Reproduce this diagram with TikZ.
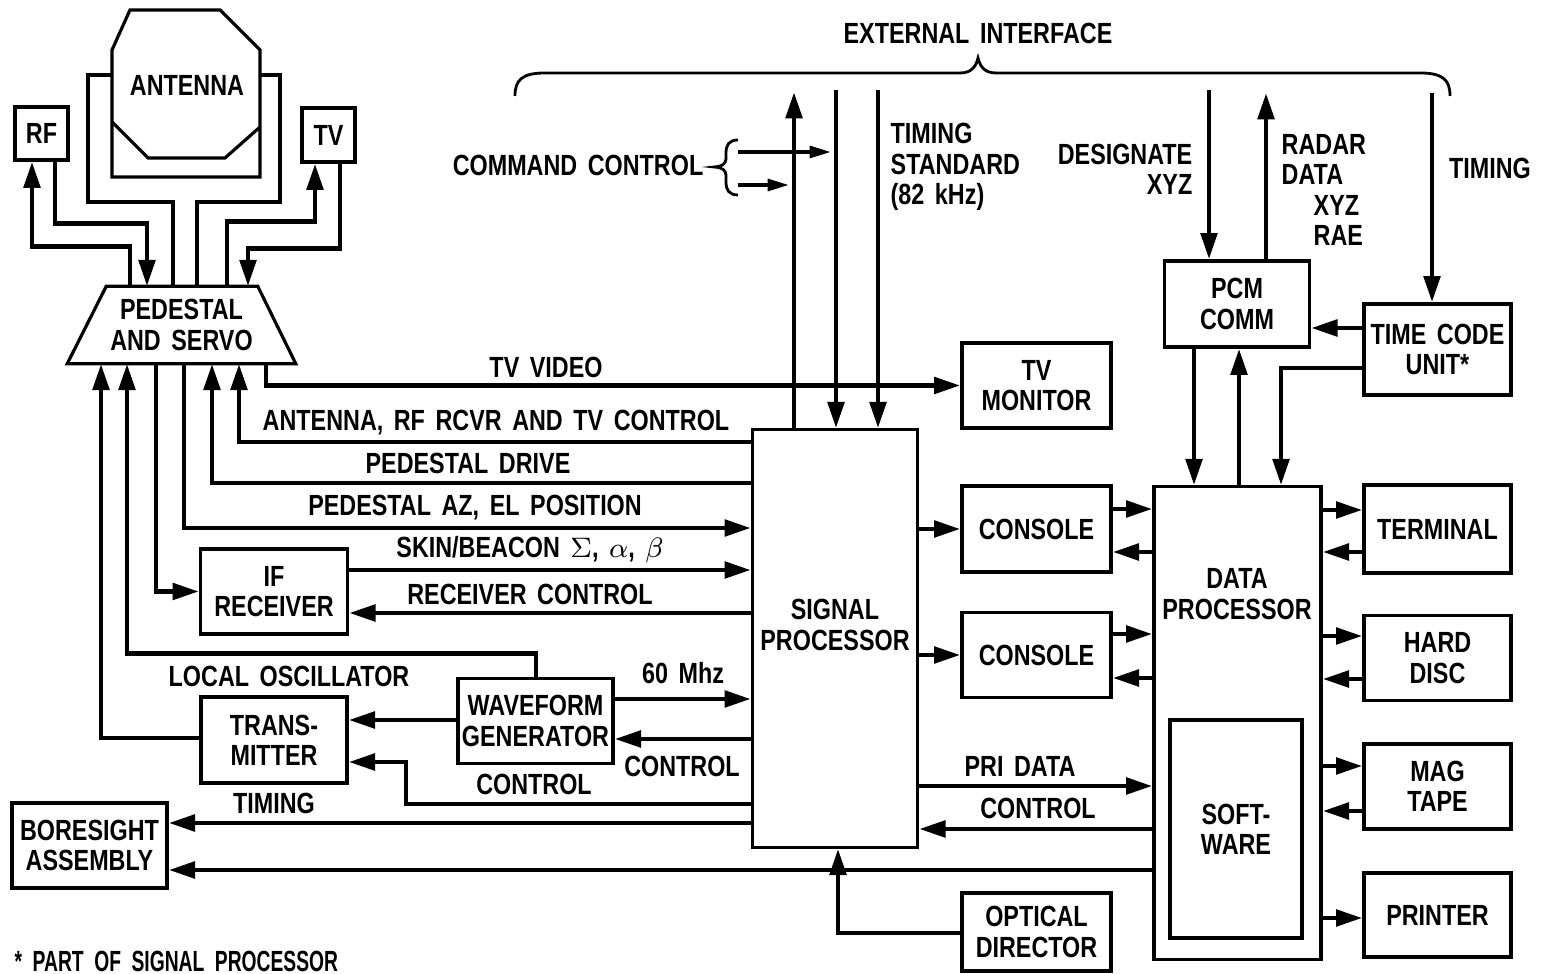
\documentclass[tikz,border=0pt]{standalone}
\usepackage{fontspec}
\setmainfont{Liberation Sans}[FakeStretch=0.8]
\newfontfamily\notefont{Liberation Sans}[FakeStretch=0.66]
\usepackage{amsmath}
\usepackage{tikz}
\usetikzlibrary{arrows.meta}
\newcommand\diagfont{\fontsize{8.3}{8.6}\selectfont\bfseries\spaceskip=3pt plus 1pt minus 0.5pt\relax}
\tikzset{blk/.style={draw,line width=0.9pt,align=center,inner sep=0pt},
  lbl/.style={align=center,inner sep=0pt},
  conn/.style={line width=1.4pt},
  sig/.style={conn,-{Triangle[length=7.5pt,width=4.6pt]}},
  thinsig/.style={line width=0.9pt,-{Triangle[length=6pt,width=3.4pt]}}}

\begin{document}
\begin{tikzpicture}[x=0.01cm,y=-0.01cm,line join=miter,font=\diagfont]
\useasboundingbox (0,0) rectangle (1543,974);
% --- antenna, yoke, pedestal
\draw[line width=0.9pt] (130,10) -- (220,10) -- (260,50) -- (260,177) -- (112,177) -- (112,50) -- cycle;
\draw[line width=0.9pt] (112,122) -- (148,158) -- (225,158) -- (260,127);
\node[lbl] (ant) at (187,85) {ANTENNA};
\node[lbl,minimum width=2.27cm,minimum height=0.76cm] (ped) at (181.5,325) {PEDESTAL\\AND SERVO};
\draw[line width=0.9pt] (ped.south west) -- (ped.south east) -- ([xshift=-0.38cm]ped.north east) -- ([xshift=0.39cm]ped.north west) -- cycle;
\draw[conn] (112,75) -- (88,75) -- (88,202) -- (173,202) -- (ped.north -| 173,0);
\draw[conn] (260,75) -- (280,75) -- (280,202) -- (197,202) -- (ped.north -| 197,0);
\node[blk,minimum width=0.53cm,minimum height=0.53cm] (rf) at (41.5,133.5) {RF};
\node[blk,minimum width=0.53cm,minimum height=0.54cm] (tv) at (328.5,135) {TV};
\draw[sig] (ped.north -| 130,0) -- ++(0,-40) -| (rf.south -| 32,0);
\draw[sig] (rf.south -| 55,0) -- ++(0,62) -| (ped.north -| 147,0);
\draw[sig] (ped.north -| 227,0) -- ++(0,-65) -| (tv.south -| 315,0);
\draw[sig] (tv.south -| 340,0) -- ++(0,85) -| (ped.north -| 248,0);

% --- blocks
\node[blk,minimum width=1.65cm,minimum height=4.17cm] (sp) at (835,638.5) {};
\node[lbl] (sptxt) at (835,625) {SIGNAL\\PROCESSOR};
\node[blk,minimum width=1.67cm,minimum height=4.72cm] (dp) at (1237.5,723) {};
\node[lbl] (dptxt) at (1237,594) {DATA\\PROCESSOR};
\node[blk,minimum width=1.32cm,minimum height=2.18cm] (sw) at (1236,829) {SOFT-\\WARE};
\node[blk,minimum width=1.49cm,minimum height=0.85cm] (tvmon) at (1036.5,385.5) {TV\\MONITOR};
\node[blk,minimum width=1.49cm,minimum height=0.86cm] (con1) at (1036.5,529) {CONSOLE};
\node[blk,minimum width=1.49cm,minimum height=0.85cm] (con2) at (1036.5,655) {CONSOLE};
\node[blk,minimum width=1.49cm,minimum height=0.78cm] (opt) at (1036.5,932) {OPTICAL\\DIRECTOR};
\node[blk,minimum width=1.47cm,minimum height=0.88cm] (term) at (1437.5,529) {TERMINAL};
\node[blk,minimum width=1.47cm,minimum height=0.85cm] (disc) at (1437.5,658) {HARD\\DISC};
\node[blk,minimum width=1.47cm,minimum height=0.85cm] (tape) at (1437.5,786.5) {MAG\\TAPE};
\node[blk,minimum width=1.47cm,minimum height=0.84cm] (prn) at (1437.5,915) {PRINTER};
\node[blk,minimum width=1.45cm,minimum height=0.86cm] (pcm) at (1237,304) {PCM\\COMM};
\node[blk,minimum width=1.47cm,minimum height=0.91cm] (tcu) at (1437.5,349.5) {TIME CODE\\UNIT*};
\node[blk,minimum width=1.47cm,minimum height=0.85cm] (ifr) at (274,591.5) {IF\\RECEIVER};
\node[blk,minimum width=1.46cm,minimum height=0.86cm] (tx) at (274,740) {TRANS-\\MITTER};
\node[blk,minimum width=1.55cm,minimum height=0.85cm] (wfg) at (535.5,721) {WAVEFORM\\GENERATOR};
\node[blk,minimum width=1.55cm,minimum height=0.85cm] (bore) at (89.5,845.5) {BORESIGHT\\ASSEMBLY};

% --- external interface
\node[lbl] (extlbl) at (978,33) {EXTERNAL INTERFACE};
\draw[line width=0.8pt] (515,96) .. controls (515,80) and (522,73) .. (545,73) -- (960,73)
  .. controls (972,73) and (976,66) .. (978,58) .. controls (980,66) and (984,73) .. (996,73)
  -- (1420,73) .. controls (1443,73) and (1450,80) .. (1450,96);
\coordinate (extup) at (794,92);
\coordinate (extts1) at (836,90);
\coordinate (extts2) at (878,90);
\draw[sig] (sp.north -| extup) -- (extup);
\draw[sig] (extts1) -- (extts1 |- sp.north);
\draw[sig] (extts2) -- (extts2 |- sp.north);
\node[lbl,anchor=west,align=left] (tslbl) at (890,167) {TIMING\\STANDARD\\(82 kHz)};
\coordinate (cc1) at (738,152);
\coordinate (cc2) at (738,185);
\draw[thinsig,shorten >=1.5pt] (cc1) -- (extts1 |- cc1);
\draw[thinsig,shorten >=1.5pt] (cc2) -- (extup |- cc2);
\draw[line width=0.8pt] (738,140) .. controls (729,140) and (726,145) .. (726,153) -- (726,159)
  .. controls (726,164) and (721,167) .. (714,167) .. controls (721,167) and (726,170) .. (726,175)
  -- (726,182) .. controls (726,190) and (729,195) .. (738,195);
\node[lbl,anchor=east] (cclbl) at (704,165) {COMMAND CONTROL};
\coordinate (desig) at (1209,90);
\coordinate (radar) at (1266,93);
\coordinate (tmg) at (1432,93);
\draw[sig] (desig) -- (desig |- pcm.north);
\draw[sig] (radar |- pcm.north) -- (radar);
\draw[sig] (tmg) -- (tmg |- tcu.north);
\node[lbl,anchor=east,align=right] (desiglbl) at (1193,169) {DESIGNATE\\XYZ};
\node[lbl,anchor=west,align=left] (radarlbl) at (1281,190) {RADAR\\DATA\\\hspace*{3.2mm}XYZ\\\hspace*{3.2mm}RAE};
\node[lbl] (tmglbl) at (1490,168) {TIMING};
\draw[sig] (tcu.west |- 0,328) -- (pcm.east |- 0,328);
\draw[sig] (pcm.south -| 1194,0) -- (dp.north -| 1194,0);
\draw[sig] (dp.north -| 1239,0) -- (pcm.south -| 1239,0);
\draw[sig] (tcu.west |- 0,368) -| (dp.north -| 1281,0);

% --- signal processor / data processor links
\draw[sig] (sp.east |- con1) -- (con1.west);
\draw[sig] (sp.east |- con2) -- (con2.west);
\draw[sig] (con1.east |- 0,509) -- (dp.west |- 0,509);
\draw[sig] (dp.west |- 0,552) -- (con1.east |- 0,552);
\draw[sig] (con2.east |- 0,634) -- (dp.west |- 0,634);
\draw[sig] (dp.west |- 0,678) -- (con2.east |- 0,678);
\draw[sig] (sp.east |- 0,786) -- (dp.west |- 0,786);
\draw[sig] (dp.west |- 0,829) -- (sp.east |- 0,829);
\node[lbl] (pri) at (1020,766) {PRI DATA};
\node[lbl] (dpctl) at (1038,808) {CONTROL};
\draw[sig] (dp.west |- 0,870) -- (bore.east |- 0,870);
\draw[sig] (opt.west |- 0,933) -| (sp.south -| 838,0);
\draw[sig] (dp.east |- 0,510) -- (term.west |- 0,510);
\draw[sig] (term.west |- 0,552) -- (dp.east |- 0,552);
\draw[sig] (dp.east |- 0,636) -- (disc.west |- 0,636);
\draw[sig] (disc.west |- 0,679) -- (dp.east |- 0,679);
\draw[sig] (dp.east |- 0,766) -- (tape.west |- 0,766);
\draw[sig] (tape.west |- 0,811) -- (dp.east |- 0,811);
\draw[sig] (dp.east |- 0,918) -- (prn.west |- 0,918);

% --- pedestal side
\draw[sig] (ped.south -| 266,0) |- (tvmon.west);
\node[lbl] (tvvid) at (546,367) {TV VIDEO};
\draw[sig] (sp.west |- 0,442) -| (ped.south -| 239,0);
\node[lbl] (antctl) at (496,423) {ANTENNA, RF RCVR AND TV CONTROL};
\draw[sig] (sp.west |- 0,483) -| (ped.south -| 212,0);
\node[lbl] (peddrv) at (468,463) {PEDESTAL DRIVE};
\draw[sig] (ped.south -| 184,0) |- (sp.west |- 0,528);
\node[lbl] (pedpos) at (475,508) {PEDESTAL AZ, EL POSITION};
\draw[sig] (ped.south -| 156,0) |- (ifr.west);
\draw[sig] (ifr.east |- 0,570) -- (sp.west |- 0,570);
\node[lbl] (skin) at (530,550) {SKIN/BEACON $\Sigma$, $\alpha$, $\beta$};
\draw[sig] (sp.west |- 0,613) -- (ifr.east |- 0,613);
\node[lbl] (rcvctl) at (530,594) {RECEIVER CONTROL};
\draw[sig] (wfg.north -| 536,0) -- ++(0,-23) -| (ped.south -| 127,0);
\node[lbl] (lo) at (289,676) {LOCAL OSCILLATOR};
\draw[sig] (tx.west |- 0,738) -| (ped.south -| 101,0);
\draw[sig] (wfg.west |- 0,720) -- (tx.east |- 0,720);
\draw[sig] (wfg.east |- 0,699) -- (sp.west |- 0,699);
\node[lbl] (mhz) at (683,673) {60 Mhz};
\draw[sig] (sp.west |- 0,739) -- (wfg.east |- 0,739);
\node[lbl] (wfgctl) at (682,766) {CONTROL};
\draw[sig] (sp.west |- 0,804) -| (406,762) -- (tx.east |- 0,762);
\node[lbl] (txctl) at (534,784) {CONTROL};
\draw[sig] (sp.west |- 0,823) -- (bore.east |- 0,823);
\node[lbl] (timing) at (274,803) {TIMING};
\node[lbl,anchor=west,font=\diagfont\notefont\bfseries] (note) at (14,961) {* PART OF SIGNAL PROCESSOR};
\end{tikzpicture}
\end{document}
